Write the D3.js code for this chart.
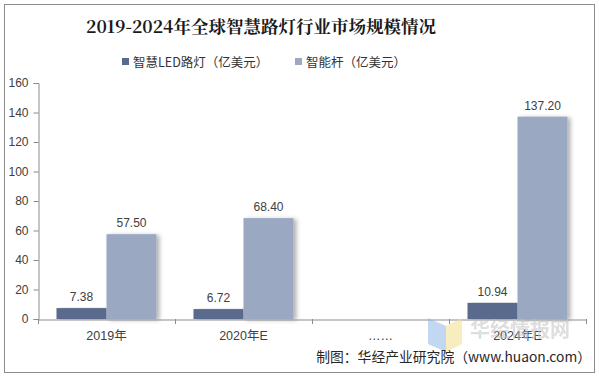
<!DOCTYPE html>
<html>
<head>
<meta charset="utf-8">
<script src="https://cdn.jsdelivr.net/npm/d3@7"></script>
<style>
  body { margin: 0; background: #fff; }
  svg { display: block; }
</style>
</head>
<body>
<div id="chart"></div>
<script>
const categories = ["2019年", "2020年E", "……", "2024年E"];
const seriesNames = ["智慧LED路灯（亿美元）", "智能杆（亿美元）"];
const ledValues = [7.38, 6.72, null, 10.94];
const poleValues = [57.50, 68.40, null, 137.20];
const yTicks = [0, 20, 40, 60, 80, 100, 120, 140, 160];
const colors = ["#5a6a8c", "#9ba8c2"];

const W = 599, H = 378;
const margin = { top: 83, right: 13, bottom: 59, left: 38 };

const svg = d3.select("#chart").append("svg")
    .attr("width", W)
    .attr("height", H);

const defs = svg.append("defs");
const shadow = defs.append("filter").attr("id", "shadow")
    .attr("x", "-20%").attr("y", "-5%").attr("width", "150%").attr("height", "110%");
shadow.append("feDropShadow")
    .attr("dx", 3).attr("dy", 1).attr("stdDeviation", 2)
    .attr("flood-color", "#000").attr("flood-opacity", 0.3);

// outer frame
svg.append("rect")
    .attr("x", 4.5).attr("y", 4.5)
    .attr("width", 590).attr("height", 368)
    .attr("fill", "#fff").attr("stroke", "#8c8c8c").attr("stroke-width", 1);

svg.append("text")
    .attr("x", 261).attr("y", 33)
    .attr("text-anchor", "middle")
    .style("font-family", "'Noto Serif CJK SC', 'DejaVu Serif', 'Noto Sans CJK SC', serif")
    .style("font-size", "17.5px")
    .style("font-weight", "bold")
    .style("fill", "#1a1a1a")
    .text("2019-2024年全球智慧路灯行业市场规模情况");

// legend
const legendX = [122, 295];
const legend = svg.append("g");
seriesNames.forEach((name, i) => {
    legend.append("rect")
        .attr("x", legendX[i]).attr("y", 58)
        .attr("width", 7).attr("height", 7)
        .attr("fill", colors[i]);
    legend.append("text")
        .attr("x", legendX[i] + 11).attr("y", 66.5)
        .style("font-family", "'Noto Sans CJK SC', sans-serif")
        .style("font-size", "12.5px")
        .style("fill", "#333")
        .text(name);
});

const x = d3.scaleBand()
    .domain(categories)
    .range([margin.left, W - margin.right])
    .paddingInner(0).paddingOuter(0);

const y = d3.scaleLinear()
    .domain([0, 160])
    .range([H - margin.bottom, margin.top]);

const x1 = d3.scaleBand()
    .domain([0, 1])
    .range([0, x.bandwidth()])
    .paddingOuter(0.37).paddingInner(0);

// y axis
const yAxis = svg.append("g")
    .attr("transform", `translate(${margin.left + 0.5},0)`)
    .call(d3.axisLeft(y).tickValues(yTicks).tickSize(5).tickPadding(5));
yAxis.select(".domain").attr("stroke", "#8c8c8c");
yAxis.selectAll(".tick line").attr("stroke", "#8c8c8c");
yAxis.selectAll("text")
    .style("font-family", "'Liberation Sans', Arial, sans-serif")
    .style("font-size", "12px")
    .style("fill", "#404040");

// bars
const rows = categories.map((c, i) => ({ cat: c, vals: [ledValues[i], poleValues[i]] }));
const groups = svg.append("g").selectAll("g")
    .data(rows)
    .join("g")
    .attr("transform", d => `translate(${x(d.cat)},0)`);

groups.selectAll("rect")
    .data(d => d.vals.map((v, k) => ({ v, k })).filter(e => e.v != null))
    .join("rect")
    .attr("x", e => x1(e.k))
    .attr("y", e => y(e.v))
    .attr("width", x1.bandwidth())
    .attr("height", e => y(0) - y(e.v))
    .attr("fill", e => colors[e.k])
    .attr("filter", "url(#shadow)");

groups.selectAll("text")
    .data(d => d.vals.map((v, k) => ({ v, k })).filter(e => e.v != null))
    .join("text")
    .attr("x", e => x1(e.k) + x1.bandwidth() / 2)
    .attr("y", e => y(e.v) - 7)
    .attr("text-anchor", "middle")
    .style("font-family", "'Liberation Sans', Arial, sans-serif")
    .style("font-size", "12px")
    .style("fill", "#404040")
    .text(e => e.v.toFixed(2));

// x axis
const xAxis = svg.append("g")
    .attr("transform", `translate(0,${y(0) + 0.5})`)
    .call(d3.axisBottom(x).tickSize(0).tickPadding(12));
xAxis.select(".domain").attr("stroke", "#8c8c8c");
xAxis.selectAll("text")
    .style("font-family", "'Liberation Sans', 'Noto Sans CJK SC', sans-serif")
    .style("font-size", "12.5px")
    .style("fill", "#404040");
// category separators
svg.append("g").selectAll("line")
    .data(categories)
    .join("line")
    .attr("x1", d => x(d) + 0.5).attr("x2", d => x(d) + 0.5)
    .attr("y1", y(0)).attr("y2", y(0) + 5)
    .attr("stroke", "#8c8c8c");
svg.append("line")
    .attr("x1", W - margin.right + 0.5).attr("x2", W - margin.right + 0.5)
    .attr("y1", y(0)).attr("y2", y(0) + 5)
    .attr("stroke", "#8c8c8c");

// watermark logo
const wm = svg.append("g").attr("opacity", 0.55);
wm.append("path").attr("d", "M428,318 L446,326 L446,352 L428,344 Z").attr("fill", "#8fb8e8");
wm.append("path").attr("d", "M446,326 L462,318 L462,344 L446,352 Z").attr("fill", "#f3e08a");
wm.append("text")
    .attr("x", 470).attr("y", 337)
    .style("font-family", "'Noto Sans CJK SC', sans-serif")
    .style("font-size", "20px")
    .style("font-weight", "bold")
    .style("fill", "#c4c4c4")
    .text("华经情报网");

// source
svg.append("text")
    .attr("x", 591).attr("y", 362)
    .attr("text-anchor", "end")
    .style("font-family", "'Noto Sans CJK SC', sans-serif")
    .style("font-size", "13.8px")
    .style("fill", "#262626")
    .text("制图：华经产业研究院（www.huaon.com）");
</script>
</body>
</html>
